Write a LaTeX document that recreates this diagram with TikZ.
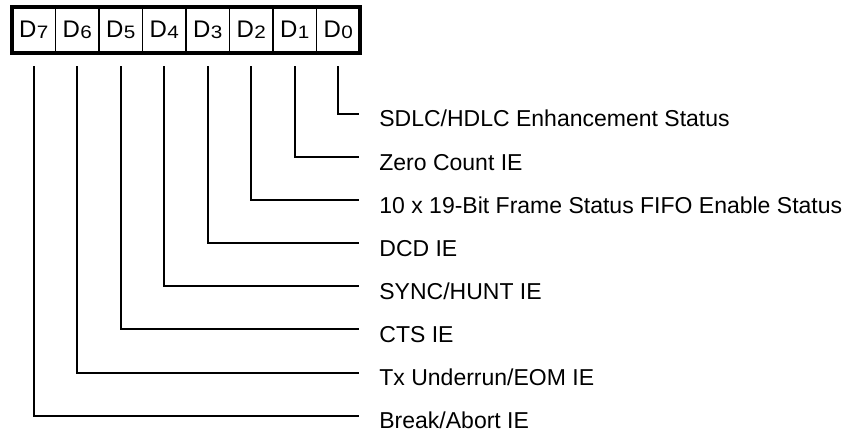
\documentclass[tikz,border=0pt]{standalone}
\usepackage{fontspec}
\setmainfont{Liberation Sans}
\usepackage{tikz}
\usetikzlibrary{positioning}

\tikzset{
  bitcell/.style={draw, line width=0.85pt, minimum width=21.75pt, minimum height=23pt,
    inner sep=0pt, outer sep=0pt, font=\fontsize{12}{13}\selectfont},
  bitlabel/.style={anchor=west, inner xsep=10pt, inner ysep=0pt, text height=14pt,
    text depth=1pt, font=\fontsize{11.5}{13}\selectfont},
  bitline/.style={line width=1pt, shorten <=6.75pt},
}
\newcommand{\bitname}[1]{D\kern0.2pt{\fontsize{9}{10}\selectfont\raisebox{-0.5pt}{\scalebox{1.15}[1]{#1}}}}

\begin{document}
\begin{tikzpicture}[x=0.5pt, y=-0.5pt]
        \useasboundingbox (0,0) rectangle (850,432);
        % Register bits
        \node[bitcell] (b7) at (33.75,30) {\bitname{7}};
        \node[bitcell, right=0pt of b7] (b6) {\bitname{6}};
        \node[bitcell, right=0pt of b6] (b5) {\bitname{5}};
        \node[bitcell, right=0pt of b5] (b4) {\bitname{4}};
        \node[bitcell, right=0pt of b4] (b3) {\bitname{3}};
        \node[bitcell, right=0pt of b3] (b2) {\bitname{2}};
        \node[bitcell, right=0pt of b2] (b1) {\bitname{1}};
        \node[bitcell, right=0pt of b1] (b0) {\bitname{0}};
        \draw[line width=1.7pt] (b7.north west) rectangle (b0.south east);
        % Bit descriptions
        \node[bitlabel] (l0) at (359,114) {SDLC/HDLC Enhancement Status};
        \node[bitlabel] (l1) at (359,157.1) {Zero Count IE};
        \node[bitlabel] (l2) at (359,200.2) {10 x 19-Bit Frame Status FIFO Enable Status};
        \node[bitlabel] (l3) at (359,243.3) {DCD IE};
        \node[bitlabel] (l4) at (359,286.4) {SYNC/HUNT IE};
        \node[bitlabel] (l5) at (359,329.5) {CTS IE};
        \node[bitlabel] (l6) at (359,372.6) {Tx Underrun/EOM IE};
        \node[bitlabel] (l7) at (359,415.7) {Break/Abort IE};
        % Leader lines
        \draw[bitline] (b0.south) |- (l0.west);
        \draw[bitline] (b1.south) |- (l1.west);
        \draw[bitline] (b2.south) |- (l2.west);
        \draw[bitline] (b3.south) |- (l3.west);
        \draw[bitline] (b4.south) |- (l4.west);
        \draw[bitline] (b5.south) |- (l5.west);
        \draw[bitline] (b6.south) |- (l6.west);
        \draw[bitline] (b7.south) |- (l7.west);
    \end{tikzpicture}
\end{document}
